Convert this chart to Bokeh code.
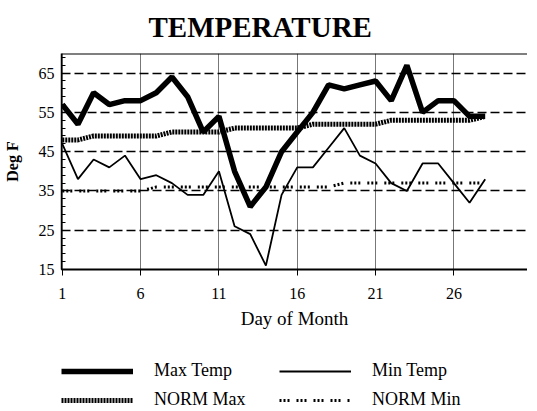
from bokeh.plotting import figure
from bokeh.layouts import column
from bokeh.models import Legend, LegendItem, Span, FixedTicker, Range1d
from bokeh.embed import file_html
from bokeh.resources import INLINE

days = list(range(1, 29))
max_temp = [57, 52, 60, 57, 58, 58, 60, 64, 59, 50, 54, 40, 31, 36, 45, 50, 55, 62, 61, 62, 63, 58, 67, 55, 58, 58, 54, 54]
min_temp = [47, 38, 43, 41, 44, 38, 39, 37, 34, 34, 40, 26, 24, 16, 34, 41, 41, 46, 51, 44, 42, 37, 35, 42, 42, 37, 32, 38]
norm_max = [48, 48, 49, 49, 49, 49, 49, 50, 50, 50, 50, 51, 51, 51, 51, 51, 52, 52, 52, 52, 52, 53, 53, 53, 53, 53, 53, 54]
norm_min = [35, 35, 35, 35, 35, 35, 36, 36, 36, 36, 36, 36, 36, 36, 36, 36, 36, 36, 37, 37, 37, 37, 37, 37, 37, 37, 37, 37]
x_ticks = [1, 6, 11, 16, 21, 26]
y_ticks = [15, 25, 35, 45, 55, 65]
y_minor = list(range(15, 70, 2))

FONT = "Liberation Serif"

MAX_STYLE = dict(line_color="black", line_width=5.5)
MIN_STYLE = dict(line_color="black", line_width=1.8)
NMAX_STYLE = dict(line_color="black", line_width=5, line_dash="2 1")
NMIN_STYLE = dict(line_color="black", line_width=3, line_dash="2 2 2 2 2 7")

p = figure(width=527, height=340, output_backend="svg", toolbar_location=None,
           x_range=Range1d(0.95, 30.7), y_range=Range1d(15, 70),
           min_border_left=53, min_border_right=0, min_border_top=53, min_border_bottom=71)
p.outline_line_color = None
p.background_fill_color = "white"
p.border_fill_color = "white"

p.title.text = "TEMPERATURE"
p.title.text_font = FONT
p.title.text_font_size = "29px"
p.title.text_font_style = "bold"
p.title.align = "left"
p.title.offset = 87
p.title.standoff = 17
p.title.vertical_align = "top"
p.title.text_color = "black"

p.xaxis.ticker = FixedTicker(ticks=x_ticks)
p.yaxis.ticker = FixedTicker(ticks=y_ticks, minor_ticks=y_minor)

for ax in (p.xaxis[0], p.yaxis[0]):
    ax.major_label_text_font = FONT
    ax.major_label_text_font_size = "16px"
    ax.major_label_text_color = "black"
    ax.axis_line_color = "black"
    ax.major_tick_line_color = "black"
    ax.minor_tick_line_color = "black"
    ax.axis_label_text_font = FONT
    ax.axis_label_text_color = "black"

p.xaxis.axis_label = "Day of Month"
p.xaxis.axis_label_text_font_size = "19px"
p.xaxis.axis_label_text_font_style = "normal"
p.xaxis.axis_line_width = 2
p.xaxis.major_tick_out = 6
p.xaxis.major_tick_in = 0
p.xaxis.minor_tick_out = 0
p.xaxis.minor_tick_in = 0
p.xaxis.major_label_standoff = 12
p.xaxis.axis_label_standoff = 6

p.yaxis.axis_label = "Deg F"
p.yaxis.axis_label_text_font_size = "16px"
p.yaxis.axis_label_text_font_style = "bold"
p.yaxis.axis_line_width = 1.5
p.yaxis.major_tick_out = 0
p.yaxis.major_tick_in = 5
p.yaxis.minor_tick_in = 4
p.yaxis.minor_tick_out = 0
p.yaxis.major_label_standoff = 7
p.yaxis.axis_label_standoff = 15

p.xgrid.grid_line_color = "#777777"
p.xgrid.grid_line_width = 1
p.ygrid.grid_line_color = "black"
p.ygrid.grid_line_width = 1.5
p.ygrid.grid_line_dash = "9 4"

p.add_layout(Span(location=70, dimension="width", line_color="black", line_width=2))

p.line(days, norm_max, **NMAX_STYLE)
p.line(days, norm_min, **NMIN_STYLE)
p.line(days, min_temp, **MIN_STYLE)
p.line(days, max_temp, **MAX_STYLE)

# legend strip below the chart: same series, plotted outside this strip's ranges,
# so that only their legend entries show
pl = figure(width=527, height=70, output_backend="svg", toolbar_location=None,
            x_range=Range1d(0, 1), y_range=Range1d(0, 1),
            x_axis_type=None, y_axis_type=None,
            min_border_left=47, min_border_right=0, min_border_top=0, min_border_bottom=0)
pl.outline_line_color = None
pl.background_fill_color = "white"
pl.border_fill_color = "white"
l_max = pl.line(days, max_temp, **MAX_STYLE)
l_nmax = pl.line(days, norm_max, **NMAX_STYLE)
l_min = pl.line(days, min_temp, **MIN_STYLE)
l_nmin = pl.line(days, norm_min, **NMIN_STYLE)

legend = Legend(items=[LegendItem(label="Max Temp", renderers=[l_max]),
                       LegendItem(label="NORM Max", renderers=[l_nmax]),
                       LegendItem(label="Min Temp", renderers=[l_min]),
                       LegendItem(label="NORM Min", renderers=[l_nmin])],
                location=(0, 0), orientation="vertical", ncols=2,
                glyph_width=72, glyph_height=20, label_height=20, label_width=117,
                label_standoff=21, spacing=8, padding=0, margin=0,
                border_line_color=None, background_fill_alpha=0,
                label_text_font=FONT, label_text_font_size="18px",
                label_text_color="black")
pl.add_layout(legend)

layout = column(p, pl, spacing=0)
open("out.html", "w").write(file_html(layout, INLINE))
